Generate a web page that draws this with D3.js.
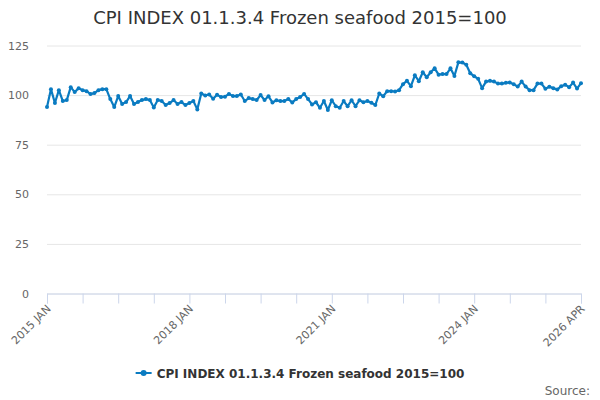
<!DOCTYPE html>
<html lang="en">
	<head>
		<meta charset="UTF-8" />
		<title>CPI INDEX 01.1.3.4 Frozen seafood 2015=100</title>
		<style>
			html,
			body {
				margin: 0;
				padding: 0;
				width: 100%;
				height: 100%;
				overflow: hidden;
				background-color: #fff;
				font-family: 'DejaVu Sans', sans-serif;
			}
		</style>
	</head>
	<body>
		<svg id="chart"></svg>

		<script src="https://d3js.org/d3.v7.min.js"></script>

		<script>
			const TITLE = 'CPI INDEX 01.1.3.4 Frozen seafood 2015=100';
			const MONTHS = ['JAN', 'FEB', 'MAR', 'APR', 'MAY', 'JUN', 'JUL', 'AUG', 'SEP', 'OCT', 'NOV', 'DEC'];
			const firstYear = 2015;

			// monthly index, 2015 JAN .. 2026 APR
			const cpiValues = [
				94, 103, 96, 102.5, 97, 97.5, 104, 101.5, 103.5, 102.5, 102, 100.5,
				101, 102.5, 103, 103, 98, 94, 99.5, 95.5, 96.5, 99.5, 95.5, 96.5,
				97.5, 98, 97.5, 93.8, 97.5, 97, 95, 96, 97.5, 95.5, 96.5, 95,
				96, 97, 92.8, 100.8, 99.8, 100.3, 98.2, 100.2, 99, 99.2, 100.6, 99.5,
				99.5, 100.3, 97, 98.5, 98, 97.5, 100, 97.5, 99.4, 96.3, 97.4, 97,
				97, 98, 96.3, 98, 99, 100.6, 98, 95.3, 96.4, 93.6, 97, 92.5,
				97.4, 94.4, 93.6, 97, 94.4, 97.4, 94.4, 97.4, 96.4, 97, 96.1, 95,
				100.8, 99.4, 102, 102, 101.8, 102.5, 105.5, 107.2, 104.5, 110, 107, 111.5,
				109, 111.5, 113.5, 110.3, 110.6, 110.6, 113.5, 109.6, 116.5, 116.4, 115.3, 111,
				109.5, 108.2, 103.5, 106.8, 107.2, 106.8, 105.8, 105.8, 106.2, 106.4, 105.5, 104.3,
				106.8, 104.3, 102.5, 102.5, 105.8, 105.8, 103.2, 104.2, 103.5, 102.8, 104.5, 105.2,
				104, 106.3, 103.3, 106
			];

			const categories = cpiValues.map((_, i) => `${firstYear + Math.floor(i / 12)} ${MONTHS[i % 12]}`);
			const yTicks = [0, 25, 50, 75, 100, 125];
			const xLabels = ['2015 JAN', '2018 JAN', '2021 JAN', '2024 JAN', '2026 APR'];
			const TICK_EVERY = 9;

			const width = 600;
			const height = 400;
			const margin = { left: 47, right: 19, top: 45.5, bottom: 106.5 };
			const color = '#0a7bc1';

			const svg = d3.select('#chart').attr('width', width).attr('height', height);

			const x = d3
				.scaleLinear()
				.domain([0, categories.length - 1])
				.range([margin.left, width - margin.right]);

			const y = d3
				.scaleLinear()
				.domain([0, 125])
				.range([height - margin.bottom, margin.top]);

			// title
			svg.append('text')
				.attr('x', width / 2)
				.attr('y', 24)
				.attr('text-anchor', 'middle')
				.attr('fill', '#333')
				.attr('font-size', 18)
				.text(TITLE);

			// grid + y labels
			const yAxis = svg
				.append('g')
				.call(
					d3
						.axisLeft(y)
						.tickValues(yTicks)
						.tickSize(-(width - margin.left - margin.right))
						.tickPadding(18)
				)
				.attr('transform', `translate(${margin.left},0)`);
			yAxis.select('.domain').remove();
			yAxis.selectAll('line').attr('stroke', '#e6e6e6');
			yAxis.selectAll('text').attr('fill', '#666').attr('font-size', 11).attr('font-family', 'DejaVu Sans, sans-serif');

			// x axis
			const tickIdx = d3.range(0, categories.length, TICK_EVERY);
			const xAxis = svg
				.append('g')
				.attr('transform', `translate(0,${y(0)})`)
				.call(
					d3
						.axisBottom(x)
						.tickValues(tickIdx)
						.tickSizeOuter(0)
						.tickSize(10)
						.tickFormat((i) => (xLabels.includes(categories[i]) ? categories[i] : ''))
				);
			xAxis.select('.domain').attr('stroke', '#ccd6eb');
			xAxis.selectAll('line').attr('stroke', '#ccd6eb');
			xAxis.selectAll('text')
				.attr('fill', '#666')
				.attr('font-size', 11)
				.attr('font-family', 'DejaVu Sans, sans-serif')
				.attr('text-anchor', 'end')
				.attr('dy', null)
				.attr('y', 0)
				.attr('transform', 'translate(4,16) rotate(-45)');

			// series
			const line = d3
				.line()
				.x((d, i) => x(i))
				.y((d) => y(d));

			svg.append('path')
				.datum(cpiValues)
				.attr('fill', 'none')
				.attr('stroke', color)
				.attr('stroke-width', 2.2)
				.attr('stroke-linejoin', 'round')
				.attr('d', line);

			svg.append('g')
				.selectAll('circle')
				.data(cpiValues)
				.join('circle')
				.attr('cx', (d, i) => x(i))
				.attr('cy', (d) => y(d))
				.attr('r', 2)
				.attr('fill', color);

			// legend
			const legend = svg.append('g').attr('transform', 'translate(0,373)');
			const legendText = legend
				.append('text')
				.attr('x', 155)
				.attr('y', 4.5)
				.attr('fill', '#333')
				.attr('font-size', 12)
				.attr('font-weight', 'bold')
				.text(TITLE);
			const tw = legendText.node().getComputedTextLength();
			const lx = (width - (tw + 21)) / 2;
			legendText.attr('x', lx + 21);
			legend.append('line')
				.attr('x1', lx)
				.attr('x2', lx + 16)
				.attr('y1', 0)
				.attr('y2', 0)
				.attr('stroke', color)
				.attr('stroke-width', 2);
			legend.append('circle').attr('cx', lx + 8).attr('cy', 0).attr('r', 3).attr('fill', color);

			svg.append('text')
				.attr('x', width - 10)
				.attr('y', 395)
				.attr('text-anchor', 'end')
				.attr('fill', '#666')
				.attr('font-size', 12)
				.text('Source:');
		</script>
	</body>
</html>
